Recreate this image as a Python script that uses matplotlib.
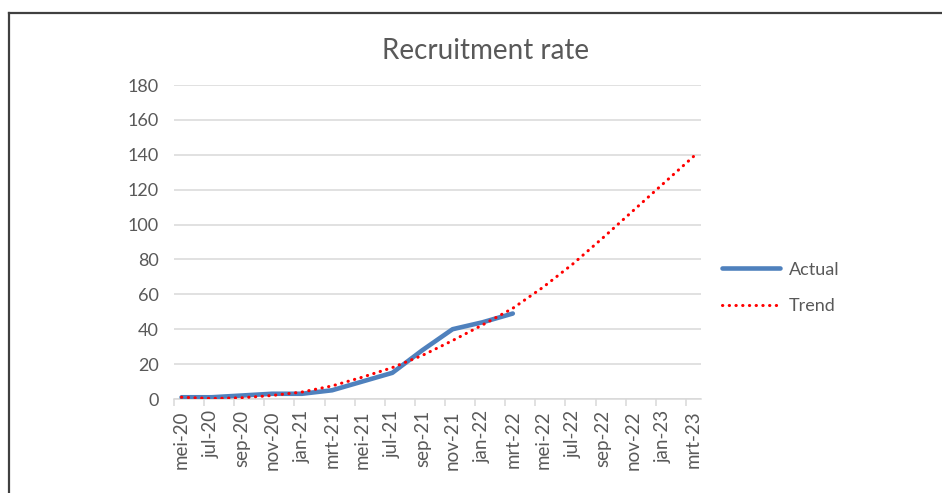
import matplotlib.pyplot as plt
from matplotlib.lines import Line2D

# Data (bi-monthly labels, monthly axis units)
months = ['mei-20', 'jun-20', 'jul-20', 'aug-20', 'sep-20', 'okt-20', 'nov-20', 'dec-20',
          'jan-21', 'feb-21', 'mrt-21', 'apr-21', 'mei-21', 'jun-21', 'jul-21', 'aug-21',
          'sep-21', 'okt-21', 'nov-21', 'dec-21', 'jan-22', 'feb-22', 'mrt-22', 'apr-22',
          'mei-22', 'jun-22', 'jul-22', 'aug-22', 'sep-22', 'okt-22', 'nov-22', 'dec-22',
          'jan-23', 'feb-23', 'mrt-23']
actual_months = ['mei-20', 'jul-20', 'sep-20', 'nov-20', 'jan-21', 'mrt-21',
                 'mei-21', 'jul-21', 'sep-21', 'nov-21', 'jan-22', 'mrt-22']
actual = [1, 1, 2, 3, 3, 5, 10, 15, 28, 40, 44, 49]
trend_months = ['mei-20', 'jul-20', 'sep-20', 'nov-20', 'jan-21', 'mrt-21',
                'mei-21', 'jul-21', 'sep-21', 'nov-21', 'jan-22', 'mrt-22',
                'mei-22', 'jul-22', 'sep-22', 'nov-22', 'jan-23', 'mrt-23']
trend = [1, 0.3, 0.7, 2, 4, 7.5, 12.5, 18, 25, 33.5, 42.5, 52, 64, 77.5, 92.5, 108, 123.5, 139]
tick_labels = trend_months

grey = '#595959'
plt.rcParams['font.family'] = ['Lato', 'DejaVu Sans']

fig = plt.figure(figsize=(9.42, 4.93), dpi=100)
ax = fig.add_axes([174 / 942, 94 / 493, 527 / 942, 314 / 493])

xa = [months.index(m) for m in actual_months]
xt = [months.index(m) for m in trend_months]

ax.plot(xa, actual, color='#4f81bd', lw=3.3, solid_capstyle='round',
        solid_joinstyle='round', label='Actual', zorder=3)
ax.plot(xt, trend, color='#ff0000', lw=2.2, linestyle=(0, (0.1, 2.1)),
        dash_capstyle='round', label='Trend', zorder=4)

ax.set_xlim(-0.5, len(months) - 0.5)
ax.set_ylim(0, 180)
ax.set_yticks(range(0, 181, 20))
ax.yaxis.grid(True, color='#d9d9d9', lw=1.1)
ax.set_axisbelow(True)

ax.set_xticks([i - 0.5 for i in range(0, len(months), 2)])
ax.set_xticklabels([])
ax.set_xticks([months.index(m) for m in tick_labels], minor=True)
ax.set_xticklabels(tick_labels, minor=True, rotation=90)
ax.tick_params(axis='x', which='major', length=5, color='#d9d9d9', width=1.1)
ax.tick_params(axis='x', which='minor', length=0, pad=8, labelsize=13.5, labelcolor=grey)
ax.tick_params(axis='y', length=0, pad=11, labelsize=13, labelcolor=grey)

for s in ['top', 'right', 'left']:
    ax.spines[s].set_visible(False)
ax.spines['bottom'].set_color('#d9d9d9')
ax.spines['bottom'].set_linewidth(1.1)

fig.text(486 / 942, 1 - 51 / 493, 'Recruitment rate', ha='center', va='center',
         fontsize=20, color=grey)

ax.legend(loc='center left', bbox_to_anchor=(706 / 942, 1 - 288 / 493),
          bbox_transform=fig.transFigure, frameon=False, fontsize=13,
          handlelength=3.2, handletextpad=0.5, labelspacing=1.15,
          labelcolor=grey)

# box edge from the screenshot
fig.add_artist(Line2D([9 / 942, 1], [1 - 13 / 493, 1 - 13 / 493], color='#404040', lw=1.6))
fig.add_artist(Line2D([9 / 942, 9 / 942], [0, 1 - 13 / 493], color='#404040', lw=1.6))

fig.savefig('out.png', dpi=100)
